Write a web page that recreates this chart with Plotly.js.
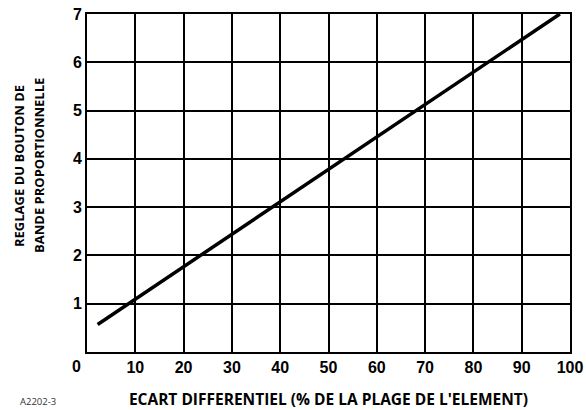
<!DOCTYPE html>
<html>
<head>
<meta charset="utf-8">
<script src="https://cdn.plot.ly/plotly-3.0.1.min.js"></script>
<style>html,body{margin:0;padding:0;background:#fff;}#chart{width:586px;height:410px;}</style>
</head>
<body>
<div id="chart"></div>
<script>
const ecartPct = [2.2, 97.9];
const reglage = [0.57, 7.0];
const xTickVals = [10, 20, 30, 40, 50, 60, 70, 80, 90, 100];
const xTickText = ["10", "20", "30", "40", "50", "60", "70", "80", "90", "100"];
const yTickVals = [1, 2, 3, 4, 5, 6, 7];
const yTickText = ["1", "2", "3", "4", "5", "6", "7"];
const xTitle = "ECART DIFFERENTIEL (% DE LA PLAGE DE L'ELEMENT)";
const yTitleLines = ["REGLAGE DU BOUTON DE", "BANDE PROPORTIONNELLE"];
const figureId = "A2202-3";

const tickFont = {family: "Liberation Sans, Arial, sans-serif", size: 16, color: "#000", weight: "bold"};
const yTitleFont = {family: "Open Sans, sans-serif", size: 13, color: "#000", weight: "bold"};

Plotly.newPlot("chart", [{
  x: ecartPct, y: reglage, mode: "lines", type: "scatter",
  line: {color: "#000", width: 3.5}, hoverinfo: "skip", showlegend: false
}], {
  width: 586, height: 410,
  margin: {l: 87, r: 16, t: 14, b: 58},
  paper_bgcolor: "#fff", plot_bgcolor: "#fff",
  xaxis: {
    range: [0, 100], tickvals: xTickVals, ticktext: xTickText,
    showgrid: true, gridcolor: "#000", gridwidth: 2,
    showline: true, linecolor: "#000", linewidth: 2, mirror: true,
    zeroline: false, ticks: "", tickfont: tickFont, automargin: false,
    title: {text: xTitle, font: {family: "Open Sans, sans-serif", size: 15.5, color: "#000", weight: "bold"}, standoff: 24}
  },
  yaxis: {
    range: [0, 7], tickvals: yTickVals, ticktext: yTickText,
    showgrid: true, gridcolor: "#000", gridwidth: 2,
    showline: true, linecolor: "#000", linewidth: 2, mirror: true,
    zeroline: false, ticks: "", tickfont: tickFont, automargin: false
  },
  annotations: [
    {text: yTitleLines[0], xref: "paper", yref: "paper", x: 0, y: 0.5, xanchor: "center", yanchor: "middle", xshift: -68, yshift: 17, textangle: -90, showarrow: false, font: yTitleFont},
    {text: yTitleLines[1], xref: "paper", yref: "paper", x: 0, y: 0.5, xanchor: "center", yanchor: "middle", xshift: -48, yshift: 17, textangle: -90, showarrow: false, font: yTitleFont},
    {text: "0", xref: "paper", yref: "paper", x: 0, y: 0, xanchor: "right", yanchor: "top", xshift: -4, yshift: -4, showarrow: false, font: tickFont},
    {text: figureId, xref: "paper", yref: "paper", x: 0, y: 0, xanchor: "left", yanchor: "bottom", xshift: -69, yshift: -58, showarrow: false, font: {family: "Open Sans, sans-serif", size: 9.5, color: "#333"}}
  ]
}, {displayModeBar: false, staticPlot: true});
</script>
</body>
</html>
